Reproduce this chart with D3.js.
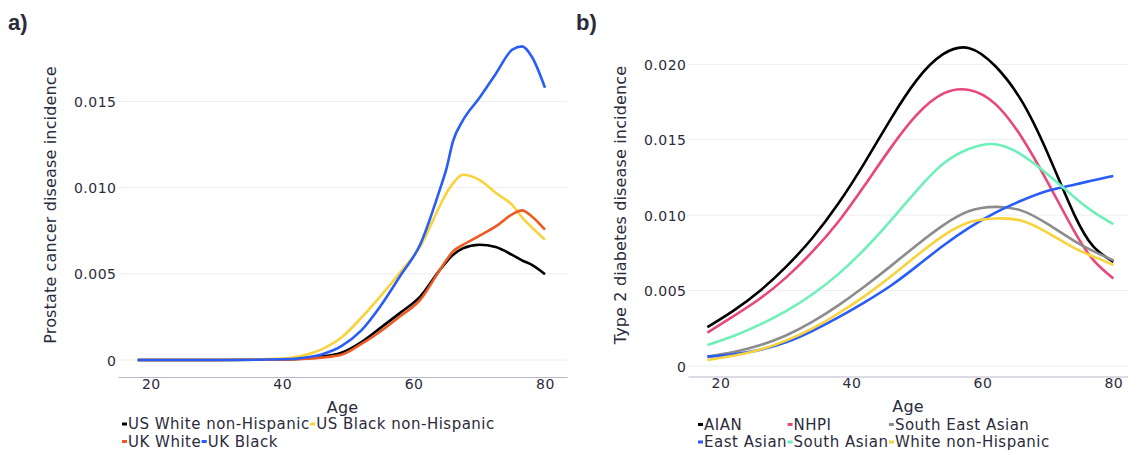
<!DOCTYPE html>
<html><head><meta charset="utf-8">
<script src="https://cdn.jsdelivr.net/npm/d3@7"></script>
<style>
html,body{margin:0;padding:0;background:#fff;}
svg{display:block;}
text{font-family:"DejaVu Sans",sans-serif;fill:#2b2b3c;}
</style></head>
<body>
<svg id="chart" width="1128" height="452"></svg>
<script>
// ---------- Panel a data ----------
const agesA = [18, 30, 40, 43, 46, 49, 52, 55, 58, 61, 64, 65, 66, 67.5, 70, 72.5, 75, 76.5, 78, 80];
const usWhiteNH = [0, 0, 0.00003, 0.00008, 0.0002, 0.00042, 0.00103, 0.00188, 0.00275, 0.00368, 0.00523, 0.0057, 0.0061, 0.00648, 0.00669, 0.00655, 0.0061, 0.00578, 0.00552, 0.00498];
const usBlackNH = [0, 0, 0.00008, 0.00025, 0.00062, 0.0013, 0.00243, 0.00372, 0.0051, 0.00659, 0.00895, 0.00969, 0.01025, 0.01075, 0.01045, 0.0097, 0.0090, 0.00828, 0.0077, 0.00698];
const ukWhite = [0, 0, 0.00002, 0.00006, 0.00014, 0.0003, 0.00092, 0.00167, 0.00255, 0.00349, 0.00523, 0.0058, 0.0063, 0.00668, 0.0072, 0.00775, 0.00845, 0.00868, 0.00833, 0.00756];
const ukBlack = [0, 0, 0.00004, 0.00012, 0.00032, 0.0008, 0.0017, 0.00315, 0.0049, 0.0067, 0.0099, 0.0111, 0.0127, 0.0139, 0.0152, 0.0166, 0.0180, 0.0182, 0.0176, 0.0158];
const seriesNamesA = ["US White non-Hispanic", "US Black non-Hispanic", "UK White", "UK Black"];
const seriesColorsA = ["#000000", "#f8d33b", "#ee5a24", "#2a5cf6"];
const legendRowsA = [["US White non-Hispanic", "US Black non-Hispanic"], ["UK White", "UK Black"]];
const yTicksA = [0, 0.005, 0.010, 0.015];
const xTicks = [20, 40, 60, 80];

// ---------- Panel b data ----------
const agesB = [18, 22, 26, 30, 34, 38, 42, 46, 50, 54, 58, 62, 66, 70, 74, 77, 80];
const aian = [0.00257, 0.00367, 0.00497, 0.00657, 0.00847, 0.01077, 0.01347, 0.01637, 0.01897, 0.02067, 0.02107, 0.01987, 0.01757, 0.01407, 0.01007, 0.0079, 0.0069];
const nhpi = [0.00221, 0.00331, 0.00446, 0.00586, 0.00756, 0.00956, 0.01196, 0.01446, 0.01666, 0.01806, 0.0183, 0.01736, 0.01516, 0.01216, 0.00896, 0.0070, 0.0058];
const southEastAsian = [0.00062, 0.00092, 0.00137, 0.00202, 0.00292, 0.00402, 0.00527, 0.00662, 0.00802, 0.00932, 0.01027, 0.01055, 0.0103, 0.0094, 0.0083, 0.0076, 0.007];
const eastAsian = [0.00062, 0.00077, 0.00107, 0.00157, 0.00232, 0.00322, 0.00422, 0.00532, 0.00662, 0.00797, 0.00917, 0.01017, 0.01097, 0.01162, 0.01202, 0.01232, 0.0126];
const southAsian = [0.00139, 0.00199, 0.00274, 0.00364, 0.00474, 0.00609, 0.00774, 0.00964, 0.01164, 0.0134, 0.0144, 0.0147, 0.0140, 0.0127, 0.0112, 0.0102, 0.0094];
const whiteNH = [0.0004, 0.00068, 0.00108, 0.00168, 0.00248, 0.00348, 0.00463, 0.00593, 0.00733, 0.00863, 0.00953, 0.00978, 0.00963, 0.00883, 0.00783, 0.00725, 0.0067];
const seriesNamesB = ["AIAN", "NHPI", "South East Asian", "East Asian", "South Asian", "White non-Hispanic"];
const seriesColorsB = ["#000000", "#e8477b", "#8c8c8c", "#2a5cf6", "#6ff0b9", "#f8d33b"];
const legendRowsB = [["AIAN", "NHPI", "South East Asian"], ["East Asian", "South Asian", "White non-Hispanic"]];
const yTicksB = [0, 0.005, 0.010, 0.015, 0.020];

const svg = d3.select("#chart");
const TICK_FS = 14, LEG_FS = 15, TITLE_FS = 16;
const TICK_LS = 0.5, LEG_LS = 0.5, TITLE_LS = 0.15;

function panel(cfg) {
  const g = svg.append("g");
  const x = d3.scaleLinear().domain(cfg.xDomain).range([cfg.left, cfg.right]);
  const y = d3.scaleLinear().domain([0, cfg.yRef]).range([cfg.y0, cfg.yRefPx]);

  // gridlines + y tick labels
  g.append("g").selectAll("line").data(cfg.yTicks).join("line")
    .attr("x1", cfg.left).attr("x2", cfg.right)
    .attr("y1", d => y(d)).attr("y2", d => y(d))
    .attr("stroke", "#eeeef0").attr("stroke-width", 1);
  const yAxis = d3.axisLeft(y).tickValues(cfg.yTicks).tickSize(0).tickPadding(0)
    .tickFormat(d => d === 0 ? "0" : d3.format(".3f")(d));
  const ya = g.append("g").attr("transform", `translate(${cfg.left},0)`).call(yAxis);
  ya.select(".domain").remove();
  ya.selectAll("text").attr("x", -1.5).attr("dy", "0.36em").style("font-size", TICK_FS + "px")
    .style("letter-spacing", TICK_LS + "px")
    .style("font-family", '"DejaVu Sans",sans-serif').attr("fill", "#2b2b3c");

  // x axis
  const xAxis = d3.axisBottom(x).tickValues(xTicks).tickSize(0).tickPadding(0);
  const xa = g.append("g").attr("transform", `translate(0,${cfg.axisY})`).call(xAxis);
  xa.select(".domain").attr("stroke", "#b9b8c8").attr("stroke-width", 1.2);
  xa.selectAll("text").attr("y", 2).attr("dy", "0.71em").style("font-size", TICK_FS + "px")
    .style("letter-spacing", TICK_LS + "px")
    .style("font-family", '"DejaVu Sans",sans-serif').attr("fill", "#2b2b3c");

  // lines
  const line = d3.line().x(d => x(d[0])).y(d => y(d[1])).curve(cfg.curve);
  cfg.series.forEach((s, i) => {
    g.append("path").datum(cfg.ages.map((a, k) => [a, s[k]]))
      .attr("d", line).attr("fill", "none")
      .attr("stroke", cfg.colors[i]).attr("stroke-width", 2.6)
      .attr("stroke-linejoin", "round").attr("stroke-linecap", "butt");
  });

  // axis titles
  g.append("text").attr("x", (cfg.left + cfg.right) / 2).attr("y", cfg.axisY + 30)
    .attr("dy", "0.35em").attr("text-anchor", "middle")
    .style("font-size", TITLE_FS + "px").style("letter-spacing", TITLE_LS + "px").text("Age");
  g.append("text").attr("transform", `translate(${cfg.yTitleX},${cfg.yTitleY}) rotate(-90)`)
    .attr("text-anchor", "middle").style("font-size", TITLE_FS + "px")
    .style("letter-spacing", TITLE_LS + "px").text(cfg.yTitle);

  // panel tag
  g.append("text").attr("x", cfg.tagX).attr("y", 30)
    .style("font-family", '"Liberation Sans",Arial,sans-serif').style("font-weight", "bold")
    .style("font-size", "22px").attr("fill", "#111").text(cfg.tag);

  // legend
  const colorOf = name => cfg.colors[cfg.names.indexOf(name)];
  const lg = g.append("g");
  const measure = t => {
    const tmp = lg.append("text").style("font-size", LEG_FS + "px").style("letter-spacing", LEG_LS + "px").text(t);
    const w = tmp.node().getComputedTextLength(); tmp.remove(); return w;
  };
  const MW = 5, GAP = 1, AFTER = 0.5;
  let colX = null;
  if (cfg.grid) {
    const nCols = cfg.legendRows[0].length;
    colX = [cfg.legendX];
    for (let c = 0; c < nCols - 1; c++) {
      const w = d3.max(cfg.legendRows, r => r[c] ? MW + GAP + measure(r[c]) + AFTER : 0);
      colX.push(colX[c] + w);
    }
  }
  cfg.legendRows.forEach((row, ri) => {
    const yy = cfg.legendY + ri * 17.5;
    let xx = cfg.legendX;
    row.forEach((name, ci) => {
      if (colX) xx = colX[ci];
      lg.append("rect").attr("x", xx).attr("y", yy - 1.5).attr("width", MW).attr("height", 3).attr("fill", colorOf(name));
      lg.append("text").attr("x", xx + MW + GAP).attr("y", yy).attr("dy", "0.35em")
        .style("font-size", LEG_FS + "px").style("letter-spacing", LEG_LS + "px").text(name);
      xx += MW + GAP + measure(name) + AFTER;
    });
  });
}

panel({
  tag: "a)", tagX: 8,
  xDomain: [15, 83.35], left: 118, right: 567,
  yRef: 0.015, y0: 360, yRefPx: 101.5, axisY: 377, yTicks: yTicksA,
  ages: agesA, series: [usWhiteNH, usBlackNH, ukWhite, ukBlack],
  names: seriesNamesA, colors: seriesColorsA, curve: d3.curveMonotoneX,
  yTitle: "Prostate cancer disease incidence", yTitleX: 56, yTitleY: 205,
  legendRows: legendRowsA, legendX: 122, legendY: 424, grid: false
});

panel({
  tag: "b)", tagX: 576,
  xDomain: [15.04, 82.24], left: 688, right: 1128,
  yRef: 0.020, y0: 366, yRefPx: 64.3, axisY: 376.5, yTicks: yTicksB,
  ages: agesB, series: [aian, nhpi, southEastAsian, eastAsian, southAsian, whiteNH],
  names: seriesNamesB, colors: seriesColorsB, curve: d3.curveNatural,
  yTitle: "Type 2 diabetes disease incidence", yTitleX: 626, yTitleY: 205,
  legendRows: legendRowsB, legendX: 698, legendY: 424.5, grid: true
});
</script>
</body></html>
